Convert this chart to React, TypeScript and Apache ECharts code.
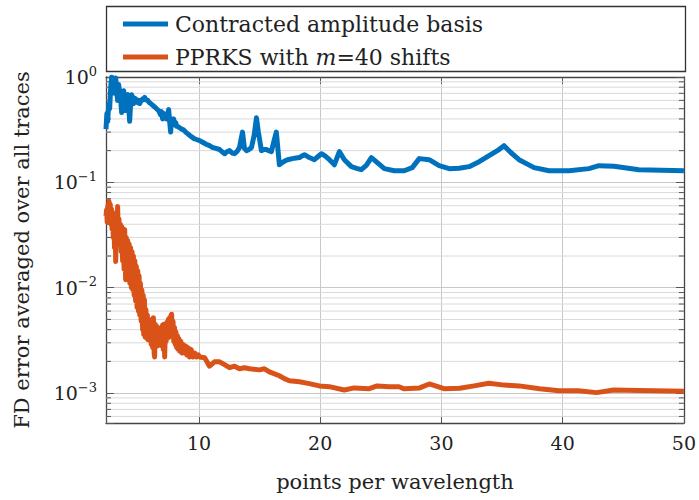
import React, { useEffect, useRef } from "react";
import * as echarts from "echarts";

const X_MIN = 2.33;
const X_MAX = 50;
const Y_MIN = 0.00052;
const Y_MAX = 1;

const seriesNames = ["Contracted amplitude basis", "PPRKS with m=40 shifts"];

const blueData: [number, number][] = [
  [2.33, 0.32], [2.4, 0.45], [2.47, 0.38], [2.55, 0.55], [2.63, 0.5], [2.72, 0.8], [2.8, 1.0], [2.88, 0.78],
  [2.96, 0.95], [3.04, 0.7], [3.13, 0.98], [3.21, 0.72], [3.29, 0.6], [3.37, 0.85], [3.46, 0.72], [3.54, 0.62],
  [3.62, 0.46], [3.7, 0.66], [3.79, 0.74], [3.87, 0.56], [3.95, 0.48], [4.03, 0.64], [4.12, 0.68], [4.2, 0.52],
  [4.28, 0.38], [4.36, 0.55], [4.45, 0.68], [4.53, 0.58], [4.61, 0.56], [4.7, 0.63], [4.78, 0.58], [4.86, 0.61],
  [4.95, 0.57], [5.03, 0.6], [5.11, 0.56], [5.19, 0.59], [5.28, 0.6], [5.36, 0.62], [5.44, 0.61], [5.52, 0.64],
  [5.6, 0.62], [5.69, 0.6], [5.77, 0.6], [5.85, 0.58], [5.93, 0.57], [6.1, 0.55], [6.26, 0.53], [6.34, 0.52],
  [6.5, 0.5], [6.67, 0.48], [6.75, 0.46], [6.83, 0.44], [6.91, 0.47], [7.0, 0.4], [7.08, 0.45], [7.17, 0.42],
  [7.25, 0.44], [7.33, 0.4], [7.42, 0.45], [7.5, 0.49], [7.58, 0.38], [7.66, 0.3], [7.74, 0.4], [7.83, 0.36],
  [7.91, 0.4], [8.0, 0.35], [8.08, 0.37], [8.16, 0.34], [8.24, 0.34], [8.4, 0.33], [8.57, 0.32], [8.73, 0.315],
  [8.9, 0.3], [9.06, 0.29], [9.22, 0.28], [9.4, 0.27], [9.6, 0.26], [9.8, 0.255], [10.05, 0.249], [10.3, 0.24],
  [10.6, 0.23], [10.87, 0.223], [11.1, 0.215], [11.4, 0.21], [11.7, 0.205], [11.9, 0.195], [12.11, 0.187],
  [12.3, 0.195], [12.52, 0.2], [12.73, 0.19], [12.93, 0.187], [13.14, 0.197], [13.34, 0.214], [13.59, 0.3],
  [13.75, 0.21], [13.92, 0.2], [14.12, 0.205], [14.33, 0.214], [14.55, 0.28], [14.74, 0.41], [14.9, 0.3],
  [15.15, 0.2], [15.35, 0.205], [15.56, 0.205], [15.75, 0.2], [15.97, 0.196], [16.2, 0.25], [16.38, 0.3],
  [16.63, 0.147], [16.9, 0.155], [17.13, 0.161], [17.4, 0.165], [17.71, 0.168], [18.0, 0.17], [18.29, 0.172],
  [18.5, 0.178], [18.7, 0.183], [19.1, 0.172], [19.52, 0.164], [19.8, 0.175], [20.1, 0.187], [20.4, 0.178],
  [20.76, 0.164], [21.17, 0.147], [21.58, 0.196], [21.99, 0.164], [22.57, 0.141], [23.0, 0.136], [23.39, 0.132],
  [23.8, 0.145], [24.22, 0.172], [24.71, 0.154], [25.29, 0.135], [26.11, 0.129], [26.93, 0.129], [27.59, 0.138],
  [28.17, 0.168], [28.99, 0.164], [29.81, 0.144], [30.64, 0.135], [31.46, 0.136], [32.28, 0.141], [33.11, 0.157],
  [33.93, 0.179], [34.75, 0.205], [35.16, 0.223], [35.74, 0.191], [36.4, 0.164], [37.64, 0.138], [38.88, 0.129],
  [40.52, 0.129], [42.17, 0.135], [42.99, 0.144], [44.23, 0.142], [46.29, 0.132], [50, 0.129],
];

const orangeData: [number, number][] = [
  [2.33, 0.048], [2.38, 0.055], [2.43, 0.042], [2.48, 0.06], [2.53, 0.045], [2.58, 0.066], [2.63, 0.05],
  [2.68, 0.062], [2.73, 0.04], [2.78, 0.056], [2.83, 0.036], [2.88, 0.052], [2.93, 0.03], [2.98, 0.05],
  [3.03, 0.024], [3.08, 0.045], [3.13, 0.0177], [3.18, 0.05], [3.23, 0.035], [3.29, 0.059], [3.34, 0.03],
  [3.4, 0.045], [3.46, 0.0256], [3.52, 0.04], [3.58, 0.022], [3.64, 0.038], [3.7, 0.018], [3.76, 0.034],
  [3.82, 0.015], [3.87, 0.0356], [3.95, 0.0119], [4.0, 0.03], [4.06, 0.014], [4.12, 0.028], [4.18, 0.012],
  [4.24, 0.026], [4.3, 0.011], [4.36, 0.024], [4.42, 0.01], [4.48, 0.022], [4.53, 0.0096], [4.59, 0.02],
  [4.65, 0.0085], [4.71, 0.018], [4.77, 0.0075], [4.83, 0.016], [4.89, 0.0065], [4.95, 0.0145], [5.01, 0.006],
  [5.06, 0.013], [5.11, 0.0055], [5.17, 0.011], [5.23, 0.0048], [5.29, 0.0095], [5.35, 0.004], [5.4, 0.0085],
  [5.44, 0.0036], [5.5, 0.0077], [5.56, 0.0034], [5.62, 0.0062], [5.68, 0.0033], [5.74, 0.0055], [5.8, 0.0032],
  [5.86, 0.005], [5.93, 0.0032], [6.0, 0.0048], [6.06, 0.0029], [6.12, 0.005], [6.18, 0.0027], [6.24, 0.0052],
  [6.3, 0.0024], [6.34, 0.0022], [6.4, 0.0045], [6.46, 0.003], [6.52, 0.0043], [6.58, 0.0028], [6.64, 0.0041],
  [6.7, 0.003], [6.75, 0.004], [6.81, 0.0029], [6.87, 0.0042], [6.93, 0.0028], [6.99, 0.0044], [7.05, 0.0026],
  [7.11, 0.0045], [7.17, 0.0022], [7.23, 0.0044], [7.29, 0.0031], [7.35, 0.0047], [7.41, 0.0033], [7.47, 0.005],
  [7.53, 0.0034], [7.58, 0.0052], [7.64, 0.0035], [7.7, 0.0055], [7.74, 0.0056], [7.8, 0.0038], [7.86, 0.0048],
  [7.92, 0.0031], [7.98, 0.0042], [8.04, 0.0029], [8.1, 0.0038], [8.16, 0.0027], [8.22, 0.0035], [8.28, 0.0026],
  [8.34, 0.0033], [8.4, 0.0025], [8.5, 0.0031], [8.6, 0.0024], [8.7, 0.0029], [8.8, 0.0024], [8.9, 0.0028],
  [9.0, 0.0023], [9.1, 0.0027], [9.22, 0.0022], [9.35, 0.0026], [9.5, 0.0022], [9.65, 0.0024], [9.8, 0.0022],
  [9.95, 0.0023], [10.05, 0.0022], [10.47, 0.00216], [10.87, 0.0018], [11.28, 0.00198], [11.7, 0.00198],
  [12.11, 0.00186], [12.52, 0.00174], [12.93, 0.0018], [13.34, 0.0017], [13.76, 0.00174], [14.17, 0.0017],
  [14.99, 0.00166], [15.4, 0.0017], [15.81, 0.00159], [16.63, 0.00146], [17.04, 0.00137], [17.46, 0.00131],
  [18.28, 0.00128], [19.1, 0.00123], [19.93, 0.00117], [20.75, 0.00115], [21.98, 0.00107], [22.8, 0.00112],
  [24.04, 0.0011], [24.7, 0.00117], [25.7, 0.00115], [26.5, 0.00115], [26.9, 0.0011], [28.2, 0.00112],
  [29.0, 0.00122], [30.2, 0.0011], [31.5, 0.00111], [32.7, 0.00117], [33.9, 0.00124], [35.2, 0.00119],
  [36.4, 0.00117], [38.1, 0.0011], [39.7, 0.00105], [41.3, 0.00105], [42.8, 0.00101], [44.2, 0.00107],
  [46.3, 0.00106], [50, 0.00104],
];

const minorGridValues: number[] = [
  0.0006, 0.0007, 0.0008, 0.0009,
  0.002, 0.003, 0.004, 0.005, 0.006, 0.007, 0.008, 0.009,
  0.02, 0.03, 0.04, 0.05, 0.06, 0.07, 0.08, 0.09,
  0.2, 0.3, 0.4, 0.5, 0.6, 0.7, 0.8, 0.9,
];

const FONT = "DejaVu Serif";
const TEXT = "#222";
const BLUE = "#0072BD";
const ORANGE = "#D95319";

export default function App() {
  const ref = useRef<HTMLDivElement>(null);
  useEffect(() => {
    if (!ref.current) return;
    const chart = echarts.init(ref.current, null, { renderer: "svg" });
    const yLabel = (v: number) => {
      const l = Math.log10(v);
      const r = Math.round(l);
      if (Math.abs(l - r) > 1e-6) return "";
      return `{b|10}{s|${r < 0 ? "\u2212" + -r : r}}`;
    };
    const tickStyle = { color: "#555", width: 1 };
    const option: any = {
      animation: false,
      backgroundColor: "#fff",
      textStyle: { fontFamily: FONT },
      grid: { left: 106, right: 13, top: 77, bottom: 77 },
      graphic: [
        {
          type: "rect",
          shape: { x: 106.5, y: 6.5, width: 579, height: 65 },
          style: { fill: "#fff", stroke: "#333", lineWidth: 1.3 },
          silent: true,
        },
      ],
      legend: {
        data: seriesNames,
        orient: "vertical",
        left: 123,
        top: 11,
        padding: 0,
        itemGap: 7,
        itemWidth: 45,
        itemHeight: 5,
        icon: "rect",
        selectedMode: false,
        formatter: (name: string) =>
          name.startsWith("PPRKS") ? "{n|PPRKS with }{i|m}{n|=40 shifts}" : name,
        textStyle: {
          fontFamily: FONT,
          fontSize: 22,
          lineHeight: 26,
          color: TEXT,
          padding: [0, 0, 0, 2],
          rich: {
            n: { fontFamily: FONT, fontSize: 22, color: TEXT, lineHeight: 26 },
            i: { fontFamily: FONT, fontSize: 22, color: TEXT, fontStyle: "italic", lineHeight: 26 },
          },
        },
      },
      xAxis: [
        {
          type: "value",
          min: X_MIN,
          max: X_MAX,
          splitNumber: 5,
          name: "points per wavelength",
          nameLocation: "middle",
          nameGap: 48,
          nameTextStyle: { fontFamily: FONT, fontSize: 21, color: TEXT },
          axisLine: { show: true, onZero: false, lineStyle: { color: "#444", width: 1.3 } },
          axisTick: { show: true, inside: true, length: 7, lineStyle: tickStyle },
          axisLabel: {
            fontFamily: FONT,
            fontSize: 19,
            color: TEXT,
            margin: 10,
            formatter: (v: number) => (Math.abs(v % 10) < 1e-6 ? String(Math.round(v)) : ""),
          },
          splitLine: { show: true, showMinLine: false, showMaxLine: false, lineStyle: { color: "#c8c8c8", width: 1 } },
        },
        {
          type: "value",
          position: "top",
          min: X_MIN,
          max: X_MAX,
          splitNumber: 5,
          axisLine: { show: true, onZero: false, lineStyle: { color: "#444", width: 1.3 } },
          axisTick: { show: true, inside: true, length: 7, lineStyle: tickStyle },
          axisLabel: { show: false },
          splitLine: { show: false },
        },
      ],
      yAxis: [
        {
          type: "log",
          logBase: 10,
          min: Y_MIN,
          max: Y_MAX,
          name: "FD error averaged over all traces",
          nameLocation: "middle",
          nameGap: 74,
          nameTextStyle: { fontFamily: FONT, fontSize: 21, color: TEXT },
          axisLine: { show: true, onZero: false, lineStyle: { color: "#444", width: 1.3 } },
          axisTick: { show: true, inside: true, length: 8, lineStyle: tickStyle },
          axisLabel: {
            margin: 9,
            color: TEXT,
            formatter: yLabel,
            rich: {
              b: { fontFamily: FONT, fontSize: 19, color: TEXT },
              s: { fontFamily: FONT, fontSize: 13, color: TEXT, padding: [0, 0, 12, 0] },
            },
          },
          splitLine: { show: true, showMinLine: false, showMaxLine: false, lineStyle: { color: "#c8c8c8", width: 1 } },
        },
        {
          type: "log",
          logBase: 10,
          position: "right",
          min: Y_MIN,
          max: Y_MAX,
          axisLine: { show: true, onZero: false, lineStyle: { color: "#444", width: 1.3 } },
          axisTick: { show: true, inside: true, length: 8, lineStyle: tickStyle },
          axisLabel: { show: false },
          splitLine: { show: false },
        },
      ],
      series: [
        {
          type: "custom",
          name: "minorGrid",
          silent: true,
          z: 1,
          xAxisIndex: 0,
          yAxisIndex: 0,
          data: minorGridValues.map((v) => [X_MIN, v]),
          renderItem: (params: any, api: any) => {
            const v = api.value(1);
            const cs = params.coordSys;
            const y = api.coord([X_MIN, v])[1];
            return {
              type: "group",
              children: [
                { type: "line", shape: { x1: cs.x, y1: y, x2: cs.x + cs.width, y2: y }, style: { stroke: "#dadada", lineWidth: 1 } },
                { type: "line", shape: { x1: cs.x, y1: y, x2: cs.x + 5, y2: y }, style: { stroke: "#555", lineWidth: 1 } },
                { type: "line", shape: { x1: cs.x + cs.width - 5, y1: y, x2: cs.x + cs.width, y2: y }, style: { stroke: "#555", lineWidth: 1 } },
              ],
            };
          },
        },
        {
          type: "line",
          name: seriesNames[0],
          data: blueData,
          showSymbol: false,
          symbol: "none",
          z: 3,
          lineStyle: { color: BLUE, width: 5, join: "round" },
          itemStyle: { color: BLUE },
        },
        {
          type: "line",
          name: seriesNames[1],
          data: orangeData,
          showSymbol: false,
          symbol: "none",
          z: 3,
          lineStyle: { color: ORANGE, width: 5, join: "round" },
          itemStyle: { color: ORANGE },
        },
      ],
    };
    chart.setOption(option);
    return () => chart.dispose();
  }, []);
  return <div ref={ref} style={{ width: 699, height: 500, position: "absolute", left: 0, top: 0 }} />;
}
